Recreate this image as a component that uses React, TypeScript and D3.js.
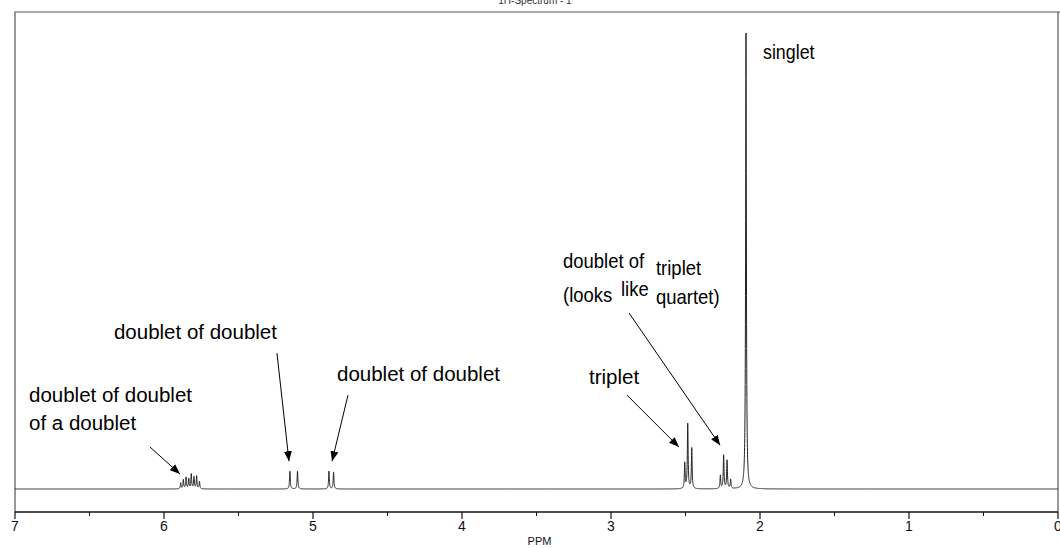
import React from "react";
import * as d3 from "d3";

// Peak list: chemical shift (ppm) and relative height (singlet = 100)
const peakPpm = [
  5.888, 5.870, 5.852, 5.834, 5.817, 5.799, 5.781, 5.762,
  5.155, 5.104,
  4.893, 4.862,
  2.505, 2.485, 2.458,
  2.266, 2.244, 2.221, 2.197,
  2.094,
];
const peakHeight = [
  1.3, 2.0, 2.5, 2.2, 3.2, 2.6, 2.8, 1.6,
  3.9, 3.9,
  3.9, 3.7,
  5.6, 14.2, 8.9,
  2.9, 7.3, 6.2, 2.0,
  100,
];
const lineWidthPpm = 0.003;

const tickMajor = [7, 6, 5, 4, 3, 2, 1, 0];
const tickMinor = [6.5, 5.5, 4.5, 3.5, 2.5, 1.5, 0.5];

// annotations: text, ppm, intensity (baseline position), horizontal squeeze
const labelText = [
  "singlet",
  "doublet of", "triplet",
  "(looks", "like", "quartet)",
  "triplet",
  "doublet of doublet",
  "doublet of doublet",
  "doublet of doublet", "of a doublet",
];
const labelPpm = [1.98, 3.322, 2.698, 3.322, 2.933, 2.698, 3.148, 6.336, 4.839, 6.906, 6.906];
const labelInt = [94.3, 48.4, 47.0, 41.0, 42.4, 40.6, 23.0, 32.9, 23.7, 19.1, 12.9];
const labelSqueeze = [0.87, 0.9, 0.9, 0.9, 0.9, 0.9, 1, 1, 1, 1, 1];

// arrows: from (ppm,int) to (ppm,int)
const arrowFromPpm = [6.094, 5.242, 4.765, 2.893, 2.879];
const arrowFromInt = [9.2, 29.8, 20.6, 20.6, 38.6];
const arrowToPpm = [5.893, 5.161, 4.872, 2.544, 2.268];
const arrowToInt = [3.3, 6.1, 6.1, 9.2, 9.6];

export default function App() {
  const W = 1060, H = 548;
  const x = d3.scaleLinear().domain([7, 0]).range([15, 1058]);
  const y = d3.scaleLinear().domain([0, 100]).range([489, 33]);

  const grid = d3.range(7, -0.0001, -0.0005);
  const g2 = lineWidthPpm * lineWidthPpm;
  const spec = grid.map((p) => {
    let s = 0;
    for (let i = 0; i < peakPpm.length; i++) {
      const d = p - peakPpm[i];
      s += (peakHeight[i] * g2) / (g2 + d * d);
    }
    return [p, s] as [number, number];
  });
  const line = d3.line<[number, number]>().x((d) => x(d[0])).y((d) => y(d[1]));

  const font = "'Liberation Sans', Arial, sans-serif";
  const narrow = "'Liberation Sans Narrow', 'Liberation Sans', Arial, sans-serif";

  return (
    <svg width={W} height={H} style={{ position: "absolute", left: 0, top: 0, background: "#fff" }}>
      <defs>
        <marker id="ah" viewBox="0 0 10 10" refX="10" refY="5" markerWidth="10" markerHeight="10" markerUnits="userSpaceOnUse" orient="auto">
          <path d="M0,1 L10,5 L0,9 Z" fill="#000" />
        </marker>
      </defs>
      <text x={535} y={4} textAnchor="middle" fontSize={10} fontFamily={narrow} fill="#333">1H-Spectrum - 1</text>
      {/* frame */}
      <path d={`M${x(7)},${y(0) + 23} V12 H${W} `} fill="none" stroke="#555" strokeWidth={1.2} />
      <line x1={x(0)} x2={x(0)} y1={12} y2={y(0) + 23} stroke="#555" strokeWidth={1.2} />
      {/* axis */}
      <line x1={x(7)} x2={x(0)} y1={512} y2={512} stroke="#111" strokeWidth={1.6} />
      {tickMajor.map((t) => (
        <g key={"M" + t}>
          <line x1={x(t)} x2={x(t)} y1={512} y2={519} stroke="#111" strokeWidth={1.2} />
          <text x={x(t)} y={531} textAnchor="middle" fontSize={14} fontFamily={narrow} fill="#111">{t}</text>
        </g>
      ))}
      {tickMinor.map((t) => (
        <line key={"m" + t} x1={x(t)} x2={x(t)} y1={512} y2={516} stroke="#111" strokeWidth={1} />
      ))}
      <text x={x(3.48)} y={545} textAnchor="middle" fontSize={11} fontFamily={narrow} fill="#111">PPM</text>
      {/* spectrum */}
      <path d={line(spec) || ""} fill="none" stroke="#222" strokeWidth={1} />
      {/* annotations */}
      {labelText.map((t, i) => (
        <text key={"l" + i} transform={`translate(${x(labelPpm[i])},${y(labelInt[i])}) scale(${labelSqueeze[i]},1)`} fontSize={20.5} fontFamily={font} fill="#000">{t}</text>
      ))}
      {arrowFromPpm.map((p, i) => (
        <line key={"a" + i} x1={x(p)} y1={y(arrowFromInt[i])} x2={x(arrowToPpm[i])} y2={y(arrowToInt[i])} stroke="#000" strokeWidth={1} markerEnd="url(#ah)" />
      ))}
    </svg>
  );
}
